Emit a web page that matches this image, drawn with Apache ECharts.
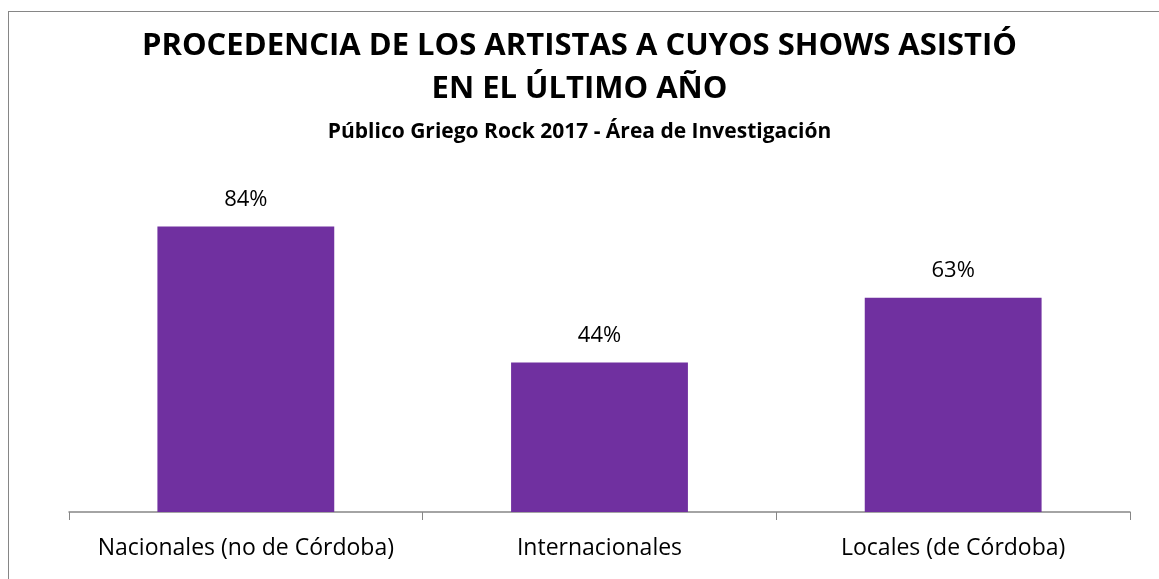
<!DOCTYPE html>
<html><head><meta charset="utf-8">
<script src="https://cdn.jsdelivr.net/npm/echarts@6/dist/echarts.min.js"></script>
<style>
html,body{margin:0;padding:0;background:#fff;overflow:hidden}
#frame{position:absolute;left:8px;top:11px;width:1200px;height:620px;border:1.5px solid #868686;box-sizing:border-box}
#c{position:absolute;left:0;top:0;width:1159px;height:579px}
</style></head>
<body>
<div id="frame"></div>
<div id="c"></div>
<script>
const categories = ['Nacionales (no de Córdoba)', 'Internacionales', 'Locales (de Córdoba)'];
const values = [84, 44, 63];
const titleLines = ['PROCEDENCIA DE LOS ARTISTAS A CUYOS SHOWS ASISTIÓ', 'EN EL ÚLTIMO AÑO'];
const subtitle = 'Público Griego Rock 2017 - Área de Investigación';

const chart = echarts.init(document.getElementById('c'));
const font = '"Open Sans", "Liberation Sans", sans-serif';
chart.setOption({
  animation: false,
  title: [
    { text: titleLines[0], left: 'center', top: 26, textStyle: { fontFamily: font, fontSize: 31, fontWeight: 'bold', color: '#000' } },
    { text: titleLines[1], left: 'center', top: 69, textStyle: { fontFamily: font, fontSize: 31, fontWeight: 'bold', color: '#000' } },
    { text: subtitle, left: 'center', top: 117, textStyle: { fontFamily: font, fontSize: 21, fontWeight: 'bold', color: '#000' } }
  ],
  grid: { left: 69, right: 29, top: 172, bottom: 67 },
  xAxis: {
    type: 'category', data: categories,
    axisLine: { lineStyle: { color: '#868686', width: 1.5 } },
    axisTick: { show: true, length: 8, lineStyle: { color: '#868686' } },
    axisLabel: { interval: 0, fontFamily: font, fontSize: 23, color: '#000', margin: 25 }
  },
  yAxis: { type: 'value', min: 0, max: 100, show: false, splitLine: { show: false } },
  series: [{
    type: 'bar', data: values, barWidth: '50%',
    itemStyle: { color: '#7030A0' },
    label: { show: true, position: 'top', distance: 16, formatter: p => p.value + '%', fontFamily: font, fontSize: 22, color: '#000' }
  }]
});
</script>
</body></html>
